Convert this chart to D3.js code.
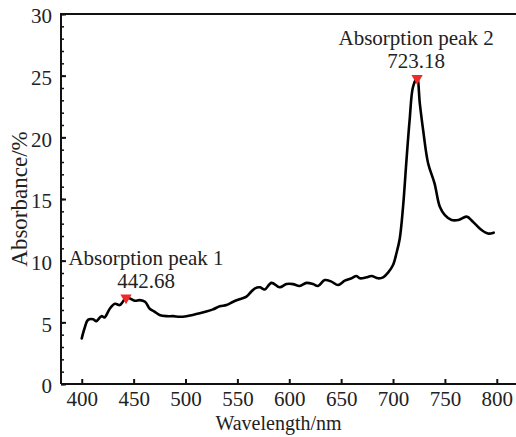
<!DOCTYPE html>
<html>
<head>
<meta charset="utf-8">
<script src="https://cdn.jsdelivr.net/npm/d3@7"></script>
<style>
  html, body { margin: 0; padding: 0; background: #fff; }
  svg { display: block; }
  svg text { fill: #222; }
</style>
</head>
<body>
<svg id="chart" width="516" height="437"></svg>
<script>
// ---- data ----
const wavelength = [400, 403, 406, 411, 414, 419, 422, 427, 432, 436.6, 439, 442.68, 446, 451, 456, 461, 465.5, 470, 475, 481.6, 488, 494.5, 501, 507, 513.7, 520, 526.5, 533, 539.5, 546, 552, 558.7, 563.5, 567, 571.6, 576.4, 582.8, 590.8, 597.3, 603.6, 610, 616.6, 623, 627.7, 634.2, 640.7, 647, 653.5, 660, 664.8, 668, 674.4, 679.2, 685.6, 690.4, 695.2, 700, 703.3, 706.5, 709.7, 713, 716, 719.3, 723.18, 725.8, 729, 733.8, 740, 745, 750, 756.4, 763, 771, 777, 785, 791.4, 797];
const absorbance = [3.7, 4.6, 5.2, 5.25, 5.1, 5.5, 5.4, 6.1, 6.5, 6.4, 6.6, 7.0, 6.95, 6.75, 6.8, 6.67, 6.1, 5.87, 5.6, 5.5, 5.5, 5.45, 5.5, 5.6, 5.73, 5.87, 6.05, 6.3, 6.4, 6.67, 6.87, 7.08, 7.5, 7.76, 7.84, 7.67, 8.2, 7.84, 8.1, 8.1, 7.95, 8.2, 8.1, 7.95, 8.43, 8.3, 8.03, 8.38, 8.57, 8.76, 8.57, 8.65, 8.76, 8.57, 8.65, 9.03, 9.65, 10.6, 11.8, 14.4, 18.2, 21.4, 24.1, 24.8, 22.76, 20.6, 17.9, 16.27, 14.4, 13.7, 13.3, 13.3, 13.57, 13.16, 12.5, 12.2, 12.27];
const peakWavelength = [442.68, 723.18];
const peakAbsorbance = [7.0, 24.8];
const peakNames = ["Absorption peak 1", "Absorption peak 2"];
const peakValues = ["442.68", "723.18"];
const xTicks = [400, 450, 500, 550, 600, 650, 700, 750, 800];
const yTicks = [0, 5, 10, 15, 20, 25, 30];
const xTitle = "Wavelength/nm";
const yTitle = "Absorbance/%";

// ---- layout ----
const FONT = 'Liberation Serif, Tinos, Times New Roman, Times, Noto Serif, DejaVu Serif, FreeSerif, serif';
const svg = d3.select("#chart");
const L = 61, T = 14, R = 516.5, B = 384;
const x = d3.scaleLinear().domain([380, 819]).range([L, R]);
const y = d3.scaleLinear().domain([0, 30]).range([B, T]);
const FS = 20;

// minor y ticks
svg.append("g").attr("transform", `translate(${L},0)`)
  .call(d3.axisLeft(y).tickValues(d3.range(0, 31, 1)).tickSize(-3).tickFormat(""))
  .call(g => g.select(".domain").remove())
  .call(g => g.selectAll("line").attr("stroke", "#111").attr("stroke-width", 1.5));

// y axis
svg.append("g").attr("transform", `translate(${L},0)`)
  .call(d3.axisLeft(y).tickValues(yTicks).tickSize(-5).tickPadding(9).tickFormat(d3.format("d")))
  .call(g => g.attr("font-family", FONT).attr("font-size", FS + 1))
  .call(g => g.select(".domain").attr("stroke", "#111").attr("stroke-width", 2).attr("d", `M0,${T}V${B}`))
  .call(g => g.selectAll("line").attr("stroke", "#111").attr("stroke-width", 2))
  .call(g => g.selectAll("text").attr("fill", "#222").attr("dy", "0.42em"));

// x axis
svg.append("g").attr("transform", `translate(0,${B})`)
  .call(d3.axisBottom(x).tickValues(xTicks).tickSize(-5).tickPadding(8).tickFormat(d3.format("d")))
  .call(g => g.attr("font-family", FONT).attr("font-size", FS + 1))
  .call(g => g.select(".domain").attr("stroke", "#111").attr("stroke-width", 2).attr("d", `M${L},0H${R}`))
  .call(g => g.selectAll("line").attr("stroke", "#111").attr("stroke-width", 2))
  .call(g => g.selectAll("text").attr("fill", "#222").attr("dy", "0.66em"));

// top border
svg.append("line").attr("x1", L - 1).attr("x2", R).attr("y1", T).attr("y2", T)
  .attr("stroke", "#111").attr("stroke-width", 2);

// titles
svg.append("text").attr("x", (L + 496) / 2).attr("y", 430).attr("text-anchor", "middle")
  .attr("font-family", FONT).attr("font-size", FS).text(xTitle);
svg.append("text").attr("transform", `translate(27,${(T + B) / 2}) rotate(-90)`)
  .attr("text-anchor", "middle").attr("font-family", FONT).attr("font-size", FS + 3).text(yTitle);

// curve
const pts = wavelength.map((w, i) => [w, absorbance[i]]);
svg.append("path").datum(pts)
  .attr("fill", "none").attr("stroke", "#000").attr("stroke-width", 2.6)
  .attr("stroke-linejoin", "round").attr("stroke-linecap", "round")
  .attr("d", d3.line().x(d => x(d[0])).y(d => y(d[1])).curve(d3.curveCatmullRom.alpha(0.5)));

// peak markers and labels
const labelDx = [20, -1];
peakWavelength.forEach((w, i) => {
  const px = x(w), py = y(peakAbsorbance[i]);
  svg.append("path")
    .attr("d", d3.symbol().type(d3.symbolTriangle).size(55)())
    .attr("transform", `translate(${px},${py}) rotate(180)`)
    .attr("fill", "#ee2a2a");
  svg.append("text").attr("x", px + labelDx[i]).attr("y", py - 10)
    .attr("text-anchor", "middle").attr("font-family", FONT).attr("font-size", FS + 1).text(peakValues[i]);
  svg.append("text").attr("x", px + labelDx[i]).attr("y", py - 33)
    .attr("text-anchor", "middle").attr("font-family", FONT).attr("font-size", FS + 1).text(peakNames[i]);
});
</script>
</body>
</html>
